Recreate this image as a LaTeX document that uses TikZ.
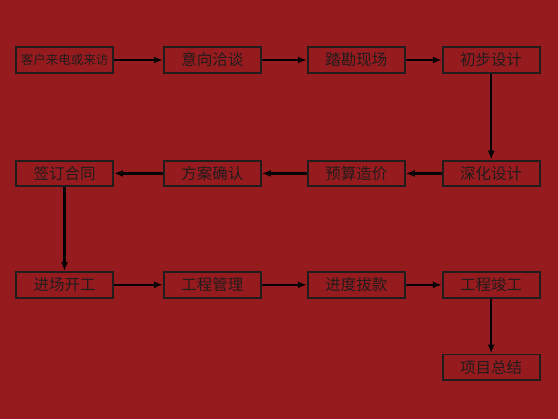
\documentclass[tikz,border=0pt]{standalone}
\usepackage{fontspec}
\newfontfamily\cjk{Noto Sans CJK SC}
\definecolor{WineRed}{RGB}{150,27,31}
\definecolor{InkDark}{RGB}{34,28,28}
\usepackage{tikz}
\usetikzlibrary{arrows.meta,positioning}

\begin{document}
\begin{tikzpicture}[
    x=1bp, y=-1bp,
    font=\cjk\fontsize{15.5bp}{18bp}\selectfont,
    box/.style={draw=InkDark, line width=1.9bp, text=InkDark, align=center,
                minimum width=97bp, minimum height=25.5bp, inner sep=0pt},
    arr/.style={-{Latex[length=9bp,width=7bp]}, line width=2.4bp, black}
  ]
    \fill[WineRed] (0,0) rectangle (558,419);
    \useasboundingbox (0,0) rectangle (558,419);
    % first row
    \node[box, font=\cjk\fontsize{12.5bp}{15bp}\selectfont] (call) at (64.5,60) {客户来电或来访};
    \node[box, right=49bp of call] (talk) {意向洽谈};
    \node[box, right=45bp of talk] (site) {踏勘现场};
    \node[box, right=36bp of site] (draft) {初步设计};
    % second row
    \node[box, below=86bp of draft] (deep) {深化设计};
    \node[box, left=36bp of deep] (cost) {预算造价};
    \node[box, left=45bp of cost] (plan) {方案确认};
    \node[box, left=49bp of plan] (sign) {签订合同};
    % third row
    \node[box, below=84bp of sign] (start) {进场开工};
    \node[box, right=49bp of start] (manage) {工程管理};
    \node[box, right=45bp of manage] (pay) {进度拔款};
    \node[box, right=36bp of pay] (done) {工程竣工};
    \node[box, below=55bp of done] (sum) {项目总结};
    \draw[arr] (call) -- (talk);
    \draw[arr] (talk) -- (site);
    \draw[arr] (site) -- (draft);
    \draw[arr] (draft) -- (deep);
    \draw[arr] (deep) -- (cost);
    \draw[arr] (cost) -- (plan);
    \draw[arr] (plan) -- (sign);
    \draw[arr] (sign) -- (start);
    \draw[arr] (start) -- (manage);
    \draw[arr] (manage) -- (pay);
    \draw[arr] (pay) -- (done);
    \draw[arr] (done) -- (sum);
  \end{tikzpicture}
\end{document}
